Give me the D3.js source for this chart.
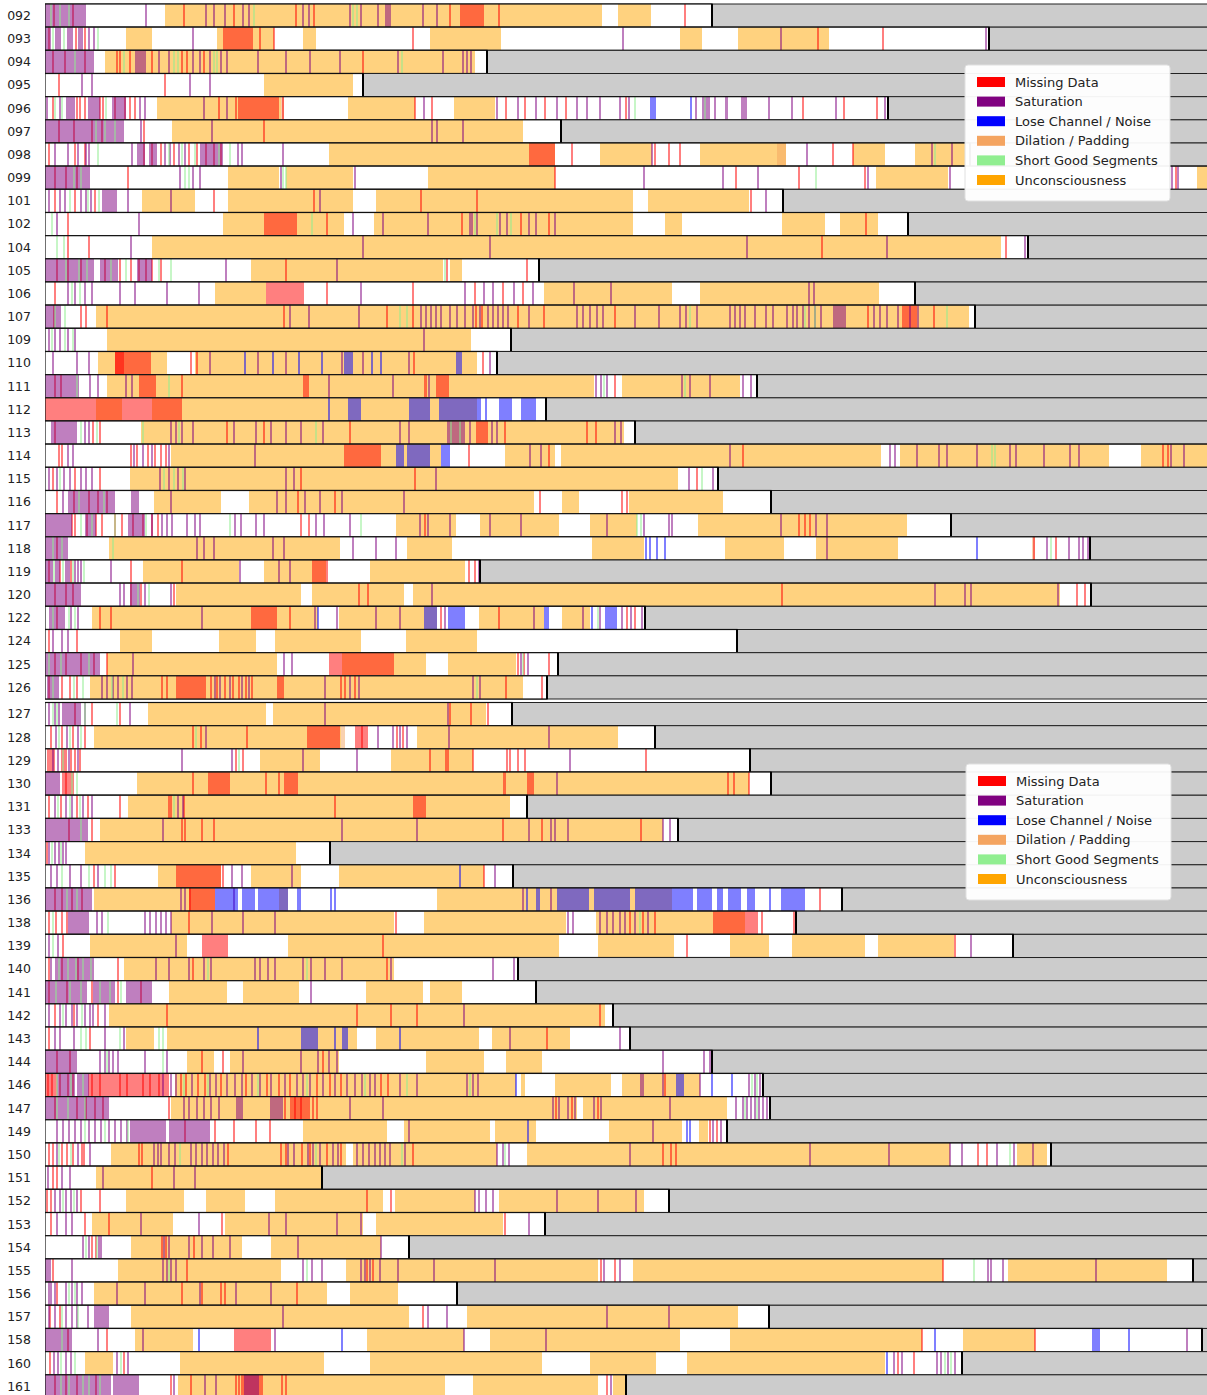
<!DOCTYPE html>
<html>
<head>
<meta charset="utf-8">
<script src="https://cdn.jsdelivr.net/npm/d3@7"></script>
<style>
body { margin: 0; background: #fff; }
text { font-family: "DejaVu Sans", sans-serif; }
</style>
</head>
<body>
<div id="chart"></div>
<script>
// subjects, one bar each, split into two panels
const topSubjects = ["092","093","094","095","096","097","098","099","101","102","104","105","106","107","109",
  "110","111","112","113","114","115","116","117","118","119","120","122","124","125","126"]
const bottomSubjects = ["127","128","129","130","131","133","134","135","136","138","139","140","141","142","143",
  "144","146","147","149","150","151","152","153","154","155","156","157","158","160","161"]
const subjects = topSubjects.concat(bottomSubjects)

// end of recording (minutes)
const recordEnd = [667,944,442,318,843,516,925,1175,738,863,983,494,870,930,466,452,712,501,590,1175,673,726,906,1045,435,1046,600,692,513,502,
  467,610,705,726,482,633,285,468,797,751,968,473,491,568,585,667,718,725,682,1006,277,624,500,364,1148,412,724,1157,917,581]

// intervals [start, end] in minutes; a single number is a short event
const unconscious = [
  [[120,557],[573,606]],
  [[81,107],[172,229],[258,271],[385,456],[635,657],[693,784]],
  [[60,430]],
  [[219,308]],
  [[112,236],[303,370],[409,450]],
  [[127,478]],
  [[284,510],[555,607],[655,741],[808,840],[870,920]],
  [[183,234],[241,308],[383,510],[831,903],[1152,1175]],
  [[97,150],[183,308],[331,588],[603,704]],
  [[178,299],[329,588],[620,637],[737,780],[795,833]],
  [[107,956]],
  [[206,398],[405,417]],
  [[170,221],[499,627],[655,834]],
  [[51,924]],
  [[62,426]],
  [[53,122],[150,432]],
  [[62,549],[577,695]],
  [[51,77],[107,432]],
  [[96,579]],
  [[126,396],[460,510],[516,836],[855,1064],[1096,1175]],
  [[85,633]],
  [[109,176],[204,489],[517,534],[584,678]],
  [[351,411],[435,514],[545,592],[653,862]],
  [[64,295],[362,407],[547,599],[680,739],[771,853]],
  [[98,194],[219,281],[325,420]],
  [[131,256],[267,359],[368,1015]],
  [[47,273],[294,392],[434,499],[517,545]],
  [[75,107],[174,211],[230,316],[361,432]],
  [[62,232],[297,381],[403,471]],
  [[45,478]],
  [[103,221],[228,441]],
  [[49,296],[372,573]],
  [[215,275],[346,428]],
  [[92,704]],
  [[83,465]],
  [[55,618]],
  [[40,251]],
  [[113,176],[206,256],[294,439]],
  [[49,170],[234,243],[392,627]],
  [[126,349],[379,521],[551,700]],
  [[45,142],[243,514],[553,629],[685,724],[747,820],[833,909]],
  [[79,349]],
  [[124,182],[198,254],[321,378],[385,417]],
  [[64,560]],
  [[81,109],[122,312],[331,434],[447,525]],
  [[142,169],[185,294],[381,439],[461,497]],
  [[130,471],[476,480],[510,566],[577,655]],
  [[126,532],[538,682]],
  [[258,342],[359,445],[450,491],[564,637],[654,663]],
  [[66,301],[308,452],[482,905],[972,1002]],
  [[51,277]],
  [[81,139],[161,200],[230,338],[350,430],[454,599]],
  [[47,128],[180,318],[331,458]],
  [[86,197],[226,336]],
  [[73,236],[301,553],[588,898],[963,1122]],
  [[49,282],[305,353]],
  [[86,364],[422,693]],
  [[90,148],[322,419],[445,635],[685,877],[918,990]],
  [[40,68],[135,279],[325,497],[545,611],[642,840]],
  [[133,400],[428,553],[568,580]]
]

const missing = [
  [[415,439],9,28,139,189,251,269,405,454,640],
  [[178,208],4,31,40,215,229,368,773,838],
  [8,20,40,72,75,85,107,137,142,159,318],
  [14,120],
  [[193,234],8,32,35,40,55,58,70,80,85,90,174,191,238,370,387,461,480,500,521,581,758,799,832],
  [14,29,47,57,99,219],
  [[484,510],4,30,40,99,107,116,129,144,152,161,169,176,527,610,624,635,788,808],
  [10,21,32,83,510,691,754,820,1131],
  [10,30,50,169,269,376,432,706],
  [[219,252],23,282,417,476,504,821],
  [23,44,777,961],
  [12,23,36,60,75,86,94,101,107,116,241,402,482],
  [[221,259],10,282,368,430,458,478],
  [[857,872],9,36,41,62,239,342,368,431,437,473,499,570,823,889],
  [],
  [[70,106],[70,79],146,152,369,438],
  [[94,111],10,16,137,[258,264],[379,382],[391,404],570],
  [[0,137]],
  [[431,443],10,48,55,182,219,305,460,542,551],
  [[299,336],14,17,86,92,103,110,116,121,424,504,698,1118,1123],
  [8,30,55,256,370,652],
  [12,29,44,53,62,253,290,495,577,582],
  [27,30,42,51,57,70,77,88,98,107,113,256,264,380,754,760,765],
  [12,989,1011],
  [[267,281],4,15,26,86,137,282,424,430],
  [10,21,28,86,96,129,314,323,737,1032,1040],
  [[206,232],12,55,66,245,396,454,582,590],
  [4,32],
  [[284,349],10,21,36,49,62,473,479,504],
  [[131,161],[232,239],4,17,25,32,117,122,166,172,180,188,194,201,207,296,300,310,461,497],
  [30,47,75,405,426,443],
  [[262,295],[310,323],6,17,28,40,148,156,202,317,352,358],
  [[2,10],[16,22],26,30,35,191,198,385,[400,404],428,462,465,473,480,601],
  [[17,29],21,148,[163,185],221,234,[239,253],[458,461],[482,489],683,689,704],
  [4,16,32,43,75,124,126,139,290,[368,381],482],
  [24,47,137,140,157,169,458,497,596],
  [2],
  [[131,176],49,70,178,439],
  [[144,170],10,17,27,37,145,775],
  [[668,700],[700,713],4,11,17,22,144,351,585,598,610,717,749],
  [[157,183],18,338,642,910],
  [4,17,33,73,148,342],
  [4,22,47,73,96],
  [10,29,53,122,312,346,372,555],
  [4,45,502],
  [12,25,157,178,278],
  [[0,12],[43,124],3,7,15,23,28,47,55,75,82,98,105,114,136,141,153,160,176,201,222,234,245,272,285,296,336,343,620],
  [[245,265],10,32,41,50,58,124,240,250,256,268,272,511,527,553],
  [140,170,189,211,225,665,672],
  [4,8,17,22,28,[36,40],94,97,183,236,241,257,265,282,296,368,618,626,631,933,942],
  [8,12,107],
  [2,6,36,55,322,346],
  [6,40,64,177,460],
  [47,51,117,121,149],
  [8,142,322,328,556,570,898],
  [12,137,157,176,180,252],
  [5,15,378],
  [[189,226],23,62,877,990],
  [5,79,853,869],
  [[196,216],10,21,32,51,126,146,191,194,217,237,241,562]
]

const saturation = [
  [[0,41],101,161,169,180,198,204,258,264,305,316,333,[340,346],378,392],
  [[0,6],[10,16],[22,28],[33,38],44,49,148,578,736,941],
  [[0,49],[90,101],114,124,148,155,165,176,182,213,241,265,295,353,398,418,422,426],
  [37,47,145,165],
  [[21,30],[43,55],[67,81],2,15,95,100,159,182,379,452,473,491,512,532,542,555,575,584,651,[657,665],670,[680,683],[696,702],724,747,791,840],
  [[0,79],96,167,387,392,418],
  [10,23,33,41,44,87,[92,100],[104,112],120,125,134,140,[155,178],193,197,238,607,762,887,907],
  [[0,45],135,148,155,236,310,599,678,713,823,905,1127,1133],
  [[57,72],4,15,20,36,41,46,83,126,275,721],
  [12,94,308,338,383,[424,428],432,455,462,484,491,510],
  [86,318,445,702,842,980],
  [[0,49],[55,73],[92,107],181,292],
  [23,30,40,47,75,90,122,154,316,420,439,448,469,488,529,566,764,769],
  [[0,16],245,264,314,376,381,386,391,396,405,412,420,428,435,443,448,453,458,463,484,532,538,545,552,558,590,614,635,641,652,685,690,695,700,710,721,728,742,748,752,758,764,770,776,[788,801],829,835,842,853,865,873],
  [4,10,15,23,30,379],
  [8,32,44,165,213,241,297,318,364,445],
  [[0,34],45,53,81,87,284,348,384,551,556,562,637,645,665,698,706],
  [],
  [[6,32],40,44,126,131,137,148,189,211,226,241,256,278,355,364,[402,420],425,447,452,570,576],
  [23,28,89,98,107,124,210,485,496,685,845,850,872,894,902,932,965,971,999,1025,1034,1126,1139],
  [4,12,19,25,36,41,47,115,124,133,140,241,249,391,644,668],
  [18,[23,70],[86,94],126,232,241,260,275,297,359],
  [[0,27],[40,51],[83,100],107,117,122,127,142,150,155,190,196,211,219,271,279,305,375,383,405,445,476,562,599,624,627,736,771,782],
  [[0,23],152,159,169,228,239,308,331,351,782,1002,1024,1034,1038,1043],
  [[0,8],[10,15],[20,25],30,33,36,66,195,234,245,434],
  [[0,36],75,79,[85,95],100,126,387,890,920,926,1013],
  [[4,20],26,33,157,270,292,331,355,400,489,538,555,577,586,597],
  [8,17,23],
  [[0,55],88,239,247,476,483],
  [[2,14],57,62,68,73,82,87,170,175,185,197,204,280,305,314,428,435],
  [[17,36],4,10,14,40,85,280,403],
  [11,22,33,161,333,348,355,362,404,504],
  [8,13,24,33,137,187,258,312,525],
  [[0,15],512],
  [10,21,27,38,47,133,138],
  [[0,43],118,297,372,484,506,510,523,618,625],
  [4,10,14,18,21],
  [6,12,25,36,53,187,197,247,450],
  [[0,47],136,140,189,478,506],
  [[23,44],52,57,100,105,111,116,121,126,167,198,230,523,528,555,562,568,575,580,590,603],
  [4,13,131,926],
  [6,[10,49],111,124,144,159,166,210,215,223,230,258,266,280,297,346,448,469],
  [[0,42],[48,70],[81,107],266],
  [4,15,21,27,32,40,45,48,60,419],
  [10,15,29,60,79,465,575],
  [[0,32],55,60,64,68,73,100,122,198,256,273,284,292,618,659,665],
  [[12,30],[32,44],118,126,131,147,165,171,182,190,197,207,215,226,240,252,258,265,278,290,302,310,317,325,330,355,372,422,428,433,596,598,618,655,704,710,715],
  [[0,64],[191,198],[225,238],139,144,152,159,166,174,305,338,508,514,523,530,549,556,625,691,698,702,706,710,714,718,722],
  [12,18,24,30,36,44,50,56,64,70,76,82,[85,121],[124,165],364,608,668,676],
  [12,33,45,109,113,116,124,130,146,151,157,162,168,173,179,243,249,263,268,275,288,293,312,318,324,330,335,340,345,360,452,458,464,585,765,844,905,917,952,969,988],
  [3,17,25,58,129,150],
  [10,15,21,26,32,430,434,441,448,512,553,591],
  [12,21,27,96,154,224,241,292,316,484],
  [38,44,54,56,119,124,144,157,168,185,253,336],
  [[0,6],27,118,122,126,131,258,267,277,316,320,325,335,353,389,450,559,575,943,946,958,1051],
  [4,6,10,21,27,32,37,72,100,155,191,226],
  [[49,64],4,10,21,27,32,43,238,383,402,562,624],
  [[0,27],53,98,230,419,501,1142],
  [9,13,21,26,72,83,849,857,892,896,903,910],
  [[0,66],[68,94],[199,214],129,160,171,566]
]

const noise = [
  [],[],[],[],[[605,611],646],[],[],[],[],[],[],[],[],[],[],
  [200,228,254,277,[299,308],327,336,[411,417]],
  [],
  [284,[303,316],[364,385],[394,436],441,[454,467],[476,491]],
  [],
  [[351,359],[362,385],[396,405]],
  [],[],[],
  [601,605,612,620,932],
  [],[],
  [273,[379,392],[403,420],[499,504],547,[560,572]],
  [],[],[],
  [],[],[],[],[],[],[],
  [415],
  [[170,193],[197,210],[213,243],[252,256],286,290,482,[491,495],[512,544],[549,585],[590,627],[627,648],[652,667],[672,678],[683,696],[702,710],[724,726],[736,760]],
  [],[],[],[],[],
  [213,[256,273],290,[297,303],355],
  [],
  [471,[631,639],667,687],
  [],
  [483,642,645],
  [],[],[],[],[],[],[],[],
  [154,297,890,[1047,1055],1084],
  [842],
  []
]

const dilation = [
  [],[],[],[],[[236,239]],[],[[732,741]],[],[],[],[],[],[],[],[],
  [],[],[],[],[],[],[],[],[[987,990]],[],[],[],[],[],[],
  [],[[296,300]],[],[],[],[],[],[],[],[],[],[],[],[],[],
  [],[],[],[],[],[],[],[],[],[],[],[],[],[],[]
]

const shortGood = [
  [6,15,24,209,308,312],[8,19,53],[30,79,129,133,169,172,357],[],[10,17,61,590,660],[51,60,70],
  [53,124,137,150,174,185,890],[29,36,140,144,238,241,771],[25,43,54],[7,267,430,452,466],[12,19],
  [21,34,42,66,81,114,126,400],[27,35],[10,20,355,362,645,760,770,902],[7,20,28],[],[32,124,559,640],[],
  [36,52,98,134,271,406,415],[947,950],[15,119,129,138,657],[34,59],[36,47,70,101,185,316,592,596],
  [8,17,68,1006],[9,18,28,39],[93,104],[8,24,30,553],[],[4,16,44,478],[8,29,38,67,78,432],
  [8,12,40,72],[14,25,36,151],[18,194],[27,32],[13,25,35,129],[36],[7,16],[17,44,60,66],[22,32],
  [8,63,595],[8],[14,23,31,38,46,163,262],[11,25,36,55,65,76],[18,37],[36,41,75,114,118],[62,118],
  [12,26,38,139,163,213,262,320,362,425,707,712],[12,23,40,700,712],[40,60,83],[14,26,135,271,357,460,965],
  [],[18,29],[],[41,52],[124,262,929],[24,30],[17,33],[17],[16,30,76,900,906],[16,24,38,44,55]
]

const W = 1207, H = 1395
const xMax = 1162
const x = d3.scaleLinear().domain([0, xMax]).range([45, 1207])

const svg = d3.select('#chart').append('svg')
    .attr('width', W)
    .attr('height', H)

svg.append('defs').append('clipPath').attr('id', 'plotclip')
    .append('rect').attr('x', 45).attr('y', 0).attr('width', 1162).attr('height', H)

// drawing order: later layers sit on top
const layers = [
    {name: 'Unconsciousness', color: 'orange', data: unconscious},
    {name: 'Dilation / Padding', color: 'sandybrown', data: dilation},
    {name: 'Missing Data', color: 'red', data: missing},
    {name: 'Saturation', color: 'purple', data: saturation},
    {name: 'Lose Channel / Noise', color: 'blue', data: noise},
    {name: 'Short Good Segments', color: 'lightgreen', data: shortGood}
]
const legendOrder = ['Missing Data', 'Saturation', 'Lose Channel / Noise', 'Dilation / Padding', 'Short Good Segments', 'Unconsciousness']

function toInterval(d) {
    return Array.isArray(d) ? d : [d - 1, d + 1]
}

const panels = [
    {ids: topSubjects, y0: 4, y1: 699, legendX: 965, legendY: 65},
    {ids: bottomSubjects, y0: 702.5, y1: 1398, legendX: 966, legendY: 764}
]

panels.forEach(function(p) {
    const y = d3.scaleBand().domain(p.ids).range([p.y0, p.y1]).padding(0)
    const h = y.bandwidth()
    const g = svg.append('g').attr('clip-path', 'url(#plotclip)')

    p.ids.forEach(function(id) {
        const i = subjects.indexOf(id)
        const top = y(id)
        const end = recordEnd[i]
        const row = g.append('g')

        // after the recording: gray
        row.append('rect')
            .attr('x', x(0)).attr('y', top)
            .attr('width', x(xMax + 10) - x(0)).attr('height', h)
            .attr('fill', '#cccccc')
            .attr('stroke', '#222').attr('stroke-width', 1)

        row.append('rect')
            .attr('x', x(0)).attr('y', top)
            .attr('width', x(end) - x(0)).attr('height', h)
            .attr('fill', '#fff')

        layers.forEach(function(L) {
            row.selectAll(null)
                .data(L.data[i].map(toInterval))
                .join('rect')
                .attr('x', d => x(d[0]))
                .attr('y', top)
                .attr('width', d => Math.max(0.5, x(d[1]) - x(d[0])))
                .attr('height', h)
                .attr('fill', L.color)
                .attr('fill-opacity', 0.5)
        })

        row.append('rect')
            .attr('x', x(0)).attr('y', top)
            .attr('width', x(end) - x(0)).attr('height', h)
            .attr('fill', 'none')
            .attr('stroke', '#111').attr('stroke-width', 1.2)
        row.append('line')
            .attr('x1', x(end)).attr('x2', x(end))
            .attr('y1', top).attr('y2', top + h)
            .attr('stroke', '#000').attr('stroke-width', 2)
    })

    svg.append('g').selectAll('text')
        .data(p.ids)
        .join('text')
        .attr('x', 31)
        .attr('y', d => y(d) + h / 2)
        .attr('dy', '0.35em')
        .attr('text-anchor', 'end')
        .attr('font-size', 12.5)
        .attr('fill', '#222')
        .text(d => d)

    // legend
    const lg = svg.append('g').attr('transform', 'translate(' + p.legendX + ',' + p.legendY + ')')
    lg.append('rect')
        .attr('width', 205).attr('height', 136)
        .attr('rx', 3)
        .attr('fill', '#fff').attr('fill-opacity', 0.95)
        .attr('stroke', '#e0e0e0')
    legendOrder.forEach(function(name, k) {
        const L = layers.find(l => l.name === name)
        const cy = 17 + k * 19.6
        lg.append('rect')
            .attr('x', 12).attr('y', cy - 5)
            .attr('width', 28).attr('height', 10)
            .attr('fill', L.color)
        lg.append('text')
            .attr('x', 50).attr('y', cy)
            .attr('dy', '0.35em')
            .attr('font-size', 13)
            .attr('fill', '#222')
            .text(name)
    })
})
</script>
</body>
</html>
